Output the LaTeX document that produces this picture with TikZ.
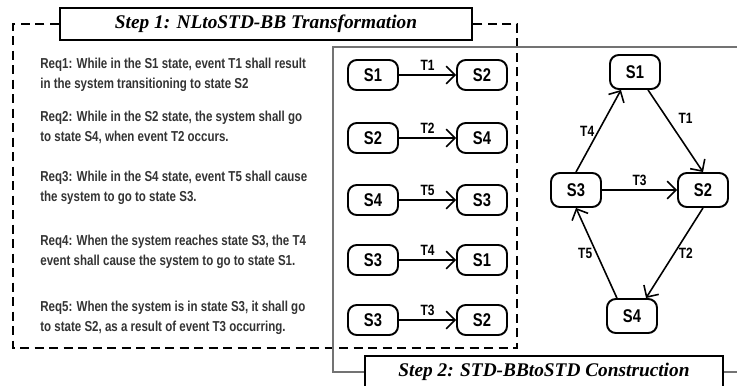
\documentclass[tikz,border=0pt]{standalone}
\usepackage{fontspec}
\usepackage{tikz}
\usetikzlibrary{arrows.meta,positioning}
\newfontfamily\reqfont{Liberation Sans}[FakeStretch=0.8]
\newfontfamily\titlefont{Liberation Serif}
\colorlet{colTexto}{black!80}
\colorlet{colMarco}{black!55}

\begin{document}
\begin{tikzpicture}[
        state/.style={draw, line width=1.1pt, rounded corners=5pt, minimum width=1cm, minimum height=0.6cm, inner sep=1pt, font=\reqfont\bfseries\fontsize{10.5}{12}\selectfont},
        bigstate/.style={state, minimum height=0.68cm},
        req/.style={anchor=west, align=left, inner sep=0pt, text=colTexto, font=\reqfont\bfseries\fontsize{8.2}{11.6}\selectfont},
        steptitle/.style={draw, line width=1.2pt, fill=white, inner sep=0pt, minimum height=0.64cm, font=\titlefont\bfseries\itshape\fontsize{11}{12}\selectfont},
        arr/.style={-{Straight Barb[length=5pt,width=10pt]}, line width=0.9pt},
        lbl/.style={font=\reqfont\bfseries\fontsize{8.5}{10}\selectfont, inner sep=2pt}
    ]
        \useasboundingbox (0,0) rectangle (14.74,7.7);

        % --- PASO 1: NLtoSTD-BB ---
        \node[steptitle, minimum width=8.24cm] (paso1) at (5.32, 7.22) {Step 1: NLtoSTD-BB Transformation};
        \draw[line width=1.1pt, dash pattern=on 0.18cm off 0.11cm] (paso1.west) -- (0.26, 7.22) -- (0.26, 0.74) -- (10.34, 0.74) -- (10.34, 7.22) -- (paso1.east);

        % Requisitos
        \node[req] (req1) at (0.8, 6.21) {Req1: While in the S1 state, event T1 shall result\\in the system transitioning to state S2};
        \node[req] (req2) at (0.8, 5.15) {Req2: While in the S2 state, the system shall go\\to state S4, when event T2 occurs.};
        \node[req] (req3) at (0.8, 3.94) {Req3: While in the S4 state, event T5 shall cause\\the system to go to state S3.};
        \node[req] (req4) at (0.8, 2.66) {Req4: When the system reaches state S3, the T4\\event shall cause the system to go to state S1.};
        \node[req] (req5) at (0.8, 1.34) {Req5: When the system is in state S3, it shall go\\to state S2, as a result of event T3 occurring.};

        % --- PASO 2: STD-BBtoSTD ---
        \node[steptitle, minimum width=7.16cm] (paso2) at (10.88, 0.26) {Step 2: STD-BBtoSTD Construction};
        \draw[colMarco, line width=0.6pt] (paso2.west) -- (6.66, 0.26) -- (6.66, 6.76) -- (14.9, 6.76);
        \draw[colMarco, line width=0.6pt] (paso2.east) -- (14.9, 0.26);

        % Bloques STD-BB
        \node[state] (bb1a) at (7.46, 6.2) {S1};
        \node[state] (bb1b) at (9.64, 6.2) {S2};
        \node[state] (bb2a) at (7.46, 4.94) {S2};
        \node[state] (bb2b) at (9.64, 4.94) {S4};
        \node[state] (bb3a) at (7.46, 3.7) {S4};
        \node[state] (bb3b) at (9.64, 3.7) {S3};
        \node[state] (bb4a) at (7.46, 2.5) {S3};
        \node[state] (bb4b) at (9.64, 2.5) {S1};
        \node[state] (bb5a) at (7.46, 1.3) {S3};
        \node[state] (bb5b) at (9.64, 1.3) {S2};

        \draw[arr] (bb1a) -- node[above, lbl] {T1} (bb1b);
        \draw[arr] (bb2a) -- node[above, lbl] {T2} (bb2b);
        \draw[arr] (bb3a) -- node[above, lbl] {T5} (bb3b);
        \draw[arr] (bb4a) -- node[above, lbl] {T4} (bb4b);
        \draw[arr] (bb5a) -- node[above, lbl] {T3} (bb5b);

        % STD completo
        \node[bigstate] (std1) at (12.7, 6.26) {S1};
        \node[bigstate] (std3) at (11.52, 3.9) {S3};
        \node[bigstate] (std2) at (14.06, 3.9) {S2};
        \node[bigstate] (std4) at (12.64, 1.38) {S4};

        \draw[arr] (std3.north) -- node[left, lbl] {T4} (std1.232);
        \draw[arr] (std1.306) -- node[pos=0.35, right=4pt, lbl] {T1} (std2.north);
        \draw[arr] (std3) -- node[above, lbl] {T3} (std2);
        \draw[arr] (std2.south) -- node[right, lbl] {T2} (std4.52);
        \draw[arr] (std4.130) -- node[left, lbl] {T5} (std3.south);
    \end{tikzpicture}
\end{document}
